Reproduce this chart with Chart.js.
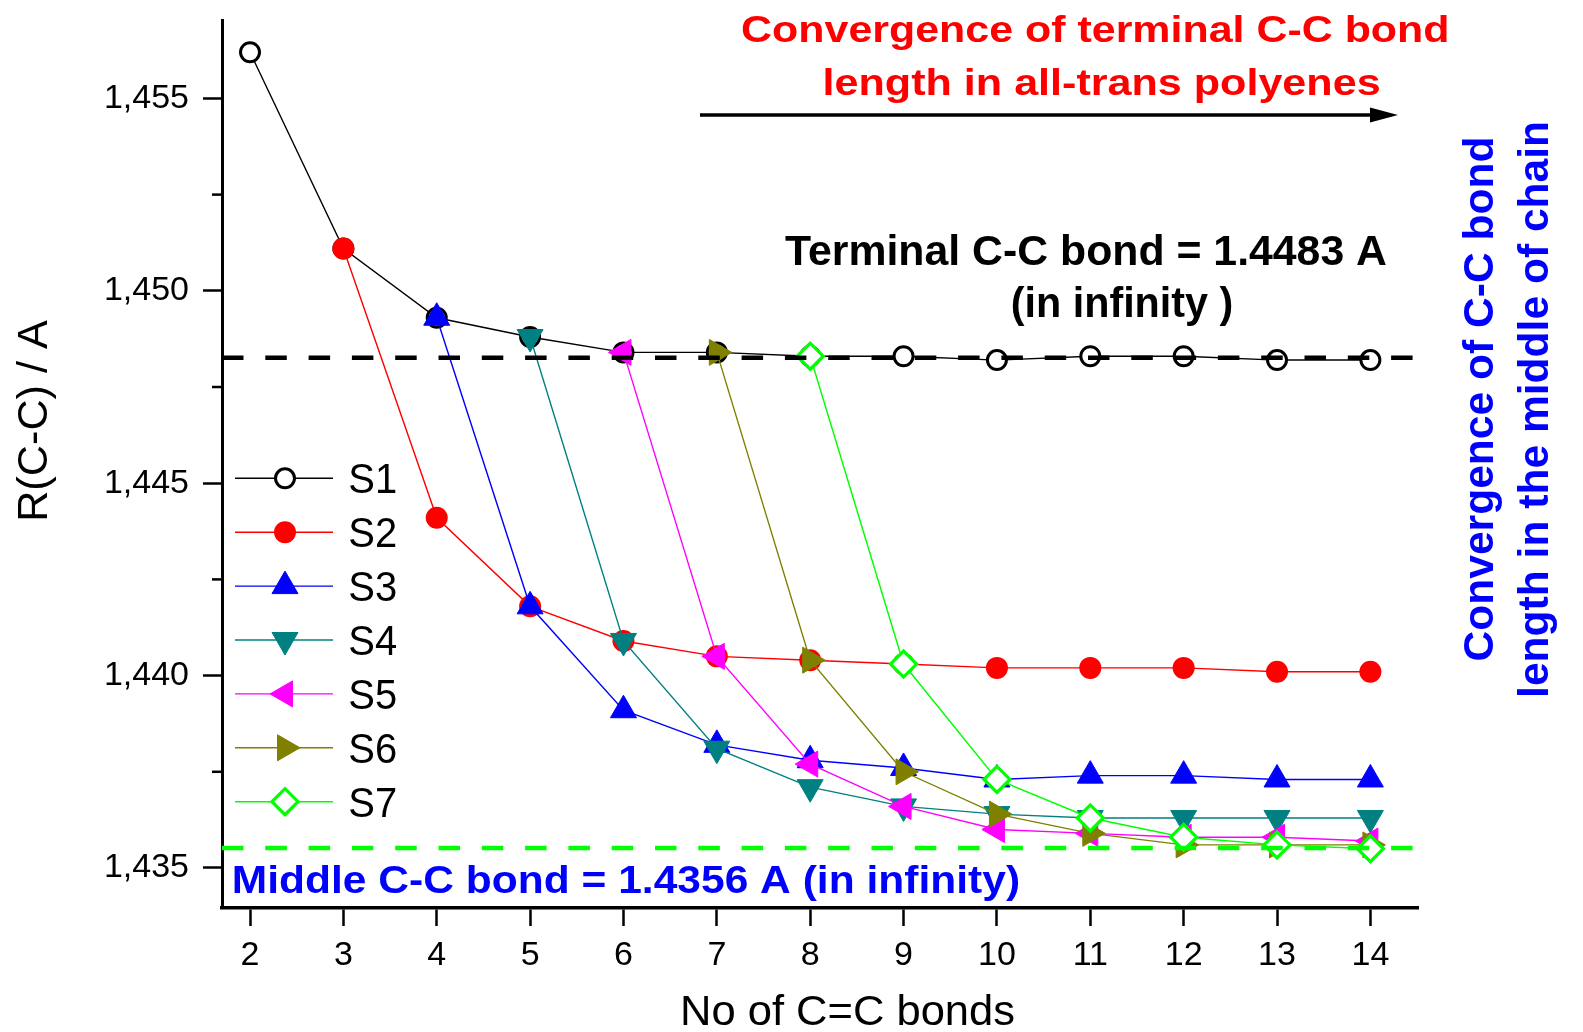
<!DOCTYPE html>
<html><head><meta charset="utf-8">
<script src="https://cdn.jsdelivr.net/npm/chart.js@4.4.1/dist/chart.umd.min.js"></script>
<style>html,body{margin:0;padding:0;background:#fff;overflow:hidden}#wrap{width:1583px;height:1032px}</style>
</head><body><div id="wrap"><canvas id="c" width="1583" height="1032"></canvas></div>
<script>
// ---- data ----
const bonds = [2, 3, 4, 5, 6, 7, 8, 9, 10, 11, 12, 13, 14];
const S1 = [1.4562, 1.4511, 1.4493, 1.4488, 1.4484, 1.4484, 1.4483, 1.4483, 1.4482, 1.4483, 1.4483, 1.4482, 1.4482];
const S2 = [null, 1.4511, 1.4441, 1.4418, 1.4409, 1.4405, 1.4404, 1.4403, 1.4402, 1.4402, 1.4402, 1.4401, 1.4401];
const S3 = [null, null, 1.4493, 1.4418, 1.4391, 1.4382, 1.4378, 1.4376, 1.4373, 1.4374, 1.4374, 1.4373, 1.4373];
const S4 = [null, null, null, 1.4488, 1.4409, 1.4381, 1.4371, 1.4366, 1.4364, 1.4363, 1.4363, 1.4363, 1.4363];
const S5 = [null, null, null, null, 1.4484, 1.4405, 1.4377, 1.4366, 1.4360, 1.4359, 1.4358, 1.4358, 1.4357];
const S6 = [null, null, null, null, null, 1.4484, 1.4404, 1.4375, 1.4364, 1.4359, 1.4356, 1.4356, 1.4356];
const S7 = [null, null, null, null, null, null, 1.4483, 1.4403, 1.4373, 1.4363, 1.4358, 1.4356, 1.4355];
const seriesNames = ['S1', 'S2', 'S3', 'S4', 'S5', 'S6', 'S7'];
const seriesValues = [S1, S2, S3, S4, S5, S6, S7];
const terminalLimit = 1.44826;
const middleLimit = 1.43552;
const yTickValues = [1.435, 1.440, 1.445, 1.450, 1.455];
const yMinorTickValues = [1.4375, 1.4425, 1.4475, 1.4525];

// ---- styles ----
const styles = [
  {color: '#000000', pointStyle: 'circle', radius: 9.5, rotation: 0, fill: '#ffffff', bw: 3},
  {color: '#ff0000', pointStyle: 'circle', radius: 11, rotation: 0, fill: '#ff0000', bw: 0},
  {color: '#0000ff', pointStyle: 'triangle', radius: 15, rotation: 0, fill: '#0000ff', bw: 1},
  {color: '#008080', pointStyle: 'triangle', radius: 15, rotation: 180, fill: '#008080', bw: 1},
  {color: '#ff00ff', pointStyle: 'triangle', radius: 15, rotation: -90, fill: '#ff00ff', bw: 1},
  {color: '#808000', pointStyle: 'triangle', radius: 15, rotation: 90, fill: '#808000', bw: 1},
  {color: '#00ff00', pointStyle: 'rectRot', radius: 13, rotation: 0, fill: '#ffffff', bw: 3.2}
];
const FONT = "'Liberation Sans', Arial, sans-serif";
const X_MIN = 1.7, X_MAX = 14.51, Y_MIN = 1.43396, Y_MAX = 1.45702;

function pts(vals) {
  return bonds.map((b, i) => ({x: b, y: vals[i]})).filter(p => p.y !== null);
}

const datasets = seriesValues.map((vals, i) => ({
  label: seriesNames[i],
  data: pts(vals),
  borderColor: styles[i].color,
  backgroundColor: styles[i].color,
  borderWidth: 1.4,
  pointStyle: styles[i].pointStyle,
  pointRadius: styles[i].radius,
  pointRotation: styles[i].rotation,
  pointBackgroundColor: styles[i].fill,
  pointBorderColor: styles[i].color,
  pointBorderWidth: styles[i].bw,
  tension: 0,
  fill: false,
  order: 9 - i
}));
datasets.push({
  label: 'terminal', data: [{x: X_MIN, y: terminalLimit}, {x: X_MAX, y: terminalLimit}],
  borderColor: '#000000', borderWidth: 4.5, borderDash: [21.5, 21.8], pointRadius: 0, fill: false, order: 1
});
datasets.push({
  label: 'middle', data: [{x: X_MIN, y: middleLimit}, {x: X_MAX, y: middleLimit}],
  borderColor: '#00ff00', borderWidth: 4.5, borderDash: [21.5, 21.8], pointRadius: 0, fill: false, order: 0
});

function drawFit(ctx, text, cx, baseY, width, font, color, rot) {
  ctx.save();
  ctx.font = font; ctx.fillStyle = color;
  ctx.textBaseline = 'alphabetic'; ctx.textAlign = 'left';
  const w = ctx.measureText(text).width;
  ctx.translate(cx, baseY);
  if (rot) ctx.rotate(rot);
  ctx.scale(width / w, 1);
  ctx.fillText(text, -w / 2, 0);
  ctx.restore();
}

const decorPlugin = {
  id: 'decor',
  afterDraw(chart) {
    const ctx = chart.ctx;
    const ys = chart.scales.y;
    const area = chart.chartArea;
    // minor y ticks
    ctx.save();
    ctx.strokeStyle = '#000'; ctx.lineWidth = 2.5;
    yMinorTickValues.forEach(v => {
      const y = ys.getPixelForValue(v);
      ctx.beginPath(); ctx.moveTo(area.left - 10, y); ctx.lineTo(area.left, y); ctx.stroke();
    });
    ctx.restore();

    // axis titles
    drawFit(ctx, 'R(C-C) / A', 46.5, 421, 201.7, '43px ' + FONT, '#000', -Math.PI / 2);
    drawFit(ctx, 'No of C=C bonds', 847.5, 1025, 335, '42px ' + FONT, '#000');

    // red headline + arrow
    drawFit(ctx, 'Convergence of terminal C-C bond', 1095.3, 41.7, 708.5, 'bold 37px ' + FONT, '#ff0000');
    drawFit(ctx, 'length in all-trans polyenes', 1101.6, 95, 558, 'bold 37px ' + FONT, '#ff0000');
    ctx.save();
    ctx.strokeStyle = '#000'; ctx.fillStyle = '#000'; ctx.lineWidth = 3.5;
    ctx.beginPath(); ctx.moveTo(700, 115); ctx.lineTo(1375, 115); ctx.stroke();
    ctx.beginPath(); ctx.moveTo(1398, 115); ctx.lineTo(1370, 107.5); ctx.lineTo(1370, 122.5); ctx.closePath(); ctx.fill();
    ctx.restore();

    // terminal annotation
    drawFit(ctx, 'Terminal C-C bond = 1.4483 A', 1086, 265, 602, 'bold 42px ' + FONT, '#000');
    drawFit(ctx, '(in infinity )', 1122, 316.7, 222.5, 'bold 42px ' + FONT, '#000');

    // middle annotation
    drawFit(ctx, 'Middle C-C bond = 1.4356 A (in infinity)', 625.9, 893.3, 788.3, 'bold 38px ' + FONT, '#0000ff');

    // right vertical blue text
    drawFit(ctx, 'Convergence of C-C bond', 1492.6, 399, 525, 'bold 43px ' + FONT, '#0000ff', -Math.PI / 2);
    drawFit(ctx, 'length in the middle of chain', 1548.4, 409.4, 577, 'bold 43px ' + FONT, '#0000ff', -Math.PI / 2);

    // legend
    const rowY0 = 478.3, rowStep = 53.9;
    seriesNames.forEach((name, i) => {
      const st = styles[i];
      const y = rowY0 + i * rowStep;
      ctx.save();
      ctx.strokeStyle = st.color; ctx.lineWidth = 1.4;
      ctx.beginPath(); ctx.moveTo(235, y); ctx.lineTo(333, y); ctx.stroke();
      ctx.fillStyle = st.fill; ctx.strokeStyle = st.color; ctx.lineWidth = st.bw;
      Chart.helpers.drawPoint(ctx, {pointStyle: st.pointStyle, rotation: st.rotation, radius: st.radius, borderWidth: st.bw}, 285, y);
      ctx.restore();
      ctx.save();
      ctx.font = '42px ' + FONT; ctx.fillStyle = '#000'; ctx.textBaseline = 'alphabetic';
      ctx.translate(348.3, y + 15); ctx.scale(0.95, 1);
      ctx.fillText(name, 0, 0);
      ctx.restore();
    });
  }
};

new Chart(document.getElementById('c'), {
  type: 'line',
  data: {datasets},
  options: {
    responsive: false, animation: false, devicePixelRatio: 1, events: [],
    layout: {padding: {left: 0, top: 20.7, right: 165, bottom: 0}},
    plugins: {legend: {display: false}, tooltip: {enabled: false}},
    scales: {
      x: {
        type: 'linear', min: X_MIN, max: X_MAX,
        afterBuildTicks: s => { s.ticks = bonds.map(v => ({value: v})); },
        afterFit: s => { s.height = 124; s.paddingLeft = 0; s.paddingRight = 0; s.paddingTop = 0; s.paddingBottom = 0; },
        grid: {drawOnChartArea: false, drawTicks: true, tickLength: 18, tickWidth: 2.5, tickColor: '#000'},
        border: {display: true, color: '#000', width: 3.5},
        ticks: {color: '#000', font: {family: FONT, size: 34}, padding: 9, maxRotation: 0, autoSkip: false,
                callback: v => String(v)}
      },
      y: {
        type: 'linear', min: Y_MIN, max: Y_MAX,
        afterBuildTicks: s => { s.ticks = yTickValues.map(v => ({value: v})); },
        afterFit: s => { s.width = 222; s.paddingTop = 0; s.paddingBottom = 0; s.paddingLeft = 0; s.paddingRight = 0; },
        grid: {drawOnChartArea: false, drawTicks: true, tickLength: 19, tickWidth: 2.5, tickColor: '#000'},
        border: {display: true, color: '#000', width: 3},
        ticks: {color: '#000', font: {family: FONT, size: 34}, padding: 14, autoSkip: false,
                callback: v => v.toFixed(3).replace('.', ',')}
      }
    }
  },
  plugins: [decorPlugin]
});
</script>
</body></html>
